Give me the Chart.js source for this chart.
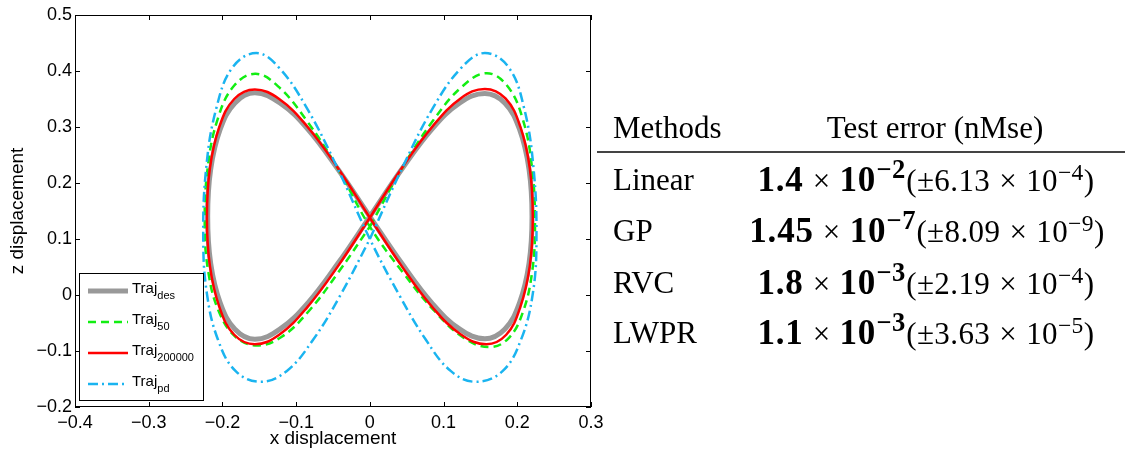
<!DOCTYPE html>
<html>
<head>
<meta charset="utf-8">
<title>Trajectory figure</title>
<script src="https://cdn.jsdelivr.net/npm/chart.js@4.4.0/dist/chart.umd.min.js"></script>
<style>
body { margin: 0; background: #fff; width: 1125px; height: 457px; overflow: hidden; position: relative; }
#plot { position: absolute; left: 0; top: 0; }
.tt { position: absolute; font-family: "Liberation Serif", "Times New Roman", serif; font-size: 31px; line-height: 31px; color: #000; white-space: nowrap; }
.val { width: 420px; text-align: center; letter-spacing: 0.4px; }
.tt b { font-size: 1.13em; letter-spacing: 0.8px; }
.tt sup { font-size: 0.76em; vertical-align: 0; position: relative; top: -0.48em; line-height: 0; }
.op { margin: 0 9px; }
#rule { position: absolute; left: 597px; top: 151px; width: 528px; height: 1.5px; background: #444; }
</style>
</head>
<body>
<canvas id="plot" width="620" height="457"></canvas>

<div class="tt" style="left:613px; top:112px;">Methods</div>
<div class="tt" style="left:725px; top:112px; width:420px; text-align:center;">Test error (nMse)</div>
<div id="rule"></div>

<div class="tt" style="left:613px; top:164px;">Linear</div>
<div class="tt val" style="left:716px; top:164px;"><b>1.4</b><span class="op">×</span><b>10<sup>−2</sup></b>(±6.13<span class="op">×</span>10<sup>−4</sup>)</div>

<div class="tt" style="left:613px; top:215px;">GP</div>
<div class="tt val" style="left:717px; top:215px;"><b>1.45</b><span class="op">×</span><b>10<sup>−7</sup></b>(±8.09<span class="op">×</span>10<sup>−9</sup>)</div>

<div class="tt" style="left:613px; top:267px;">RVC</div>
<div class="tt val" style="left:716px; top:267px;"><b>1.8</b><span class="op">×</span><b>10<sup>−3</sup></b>(±2.19<span class="op">×</span>10<sup>−4</sup>)</div>

<div class="tt" style="left:613px; top:317px;">LWPR</div>
<div class="tt val" style="left:716px; top:317px;"><b>1.1</b><span class="op">×</span><b>10<sup>−3</sup></b>(±3.63<span class="op">×</span>10<sup>−5</sup>)</div>

<script>
// axis ticks
var xTicks = [-0.4, -0.3, -0.2, -0.1, 0, 0.1, 0.2, 0.3];
var zTicks = [-0.2, -0.1, 0, 0.1, 0.2, 0.3, 0.4, 0.5];

// legend subscripts
var trajNames = ["des", "50", "200000", "pd"];

// desired trajectory
var desX = [0, 0.043, 0.084, 0.122, 0.156, 0.183, 0.203, 0.216, 0.220, 0.216, 0.203, 0.183, 0.156, 0.122, 0.084, 0.043, 0,
	-0.043, -0.084, -0.122, -0.156, -0.183, -0.203, -0.216, -0.220, -0.216, -0.203, -0.183, -0.156, -0.122, -0.084, -0.043, 0];
var desZ = [0.140, 0.224, 0.296, 0.343, 0.360, 0.343, 0.296, 0.224, 0.140, 0.057, -0.014, -0.061, -0.078, -0.061, -0.014, 0.057, 0.140,
	0.224, 0.296, 0.343, 0.361, 0.343, 0.296, 0.224, 0.140, 0.057, -0.014, -0.061, -0.079, -0.061, -0.014, 0.057, 0.140];

// 50 samples
var t50X = [0, 0.044, 0.086, 0.125, 0.158, 0.186, 0.207, 0.220, 0.224, 0.220, 0.208, 0.189, 0.163, 0.128, 0.088, 0.045, 0,
	-0.044, -0.086, -0.124, -0.155, -0.184, -0.206, -0.220, -0.224, -0.219, -0.205, -0.182, -0.153, -0.120, -0.083, -0.043, 0];
var t50Z = [0.122, 0.227, 0.312, 0.372, 0.396, 0.374, 0.316, 0.227, 0.122, 0.040, -0.029, -0.076, -0.093, -0.077, -0.029, 0.040, 0.122,
	0.227, 0.312, 0.372, 0.395, 0.374, 0.316, 0.227, 0.122, 0.040, -0.029, -0.075, -0.090, -0.075, -0.029, 0.040, 0.122];

// 200000 samples
var t200kX = [0, 0.043, 0.085, 0.123, 0.156, 0.184, 0.204, 0.217, 0.221, 0.217, 0.204, 0.185, 0.158, 0.124, 0.085, 0.043, 0,
	-0.043, -0.085, -0.123, -0.156, -0.184, -0.204, -0.217, -0.221, -0.217, -0.204, -0.184, -0.156, -0.123, -0.085, -0.043, 0];
var t200kZ = [0.138, 0.226, 0.301, 0.351, 0.368, 0.351, 0.301, 0.226, 0.138, 0.052, -0.022, -0.071, -0.088, -0.071, -0.022, 0.052, 0.138,
	0.226, 0.301, 0.350, 0.367, 0.350, 0.301, 0.226, 0.138, 0.052, -0.022, -0.071, -0.088, -0.071, -0.022, 0.052, 0.138];

// pd controller
var pdX = [0, 0.044, 0.086, 0.125, 0.156, 0.188, 0.209, 0.222, 0.226, 0.221, 0.205, 0.180, 0.144, 0.110, 0.076, 0.039, 0,
	-0.044, -0.086, -0.124, -0.154, -0.186, -0.208, -0.222, -0.226, -0.221, -0.206, -0.182, -0.148, -0.113, -0.077, -0.039, 0];
var pdZ = [0.100, 0.227, 0.335, 0.407, 0.432, 0.407, 0.335, 0.227, 0.100, 0.002, -0.080, -0.136, -0.155, -0.136, -0.080, 0.002, 0.100,
	0.227, 0.335, 0.407, 0.432, 0.407, 0.335, 0.227, 0.100, 0.002, -0.080, -0.136, -0.155, -0.136, -0.080, 0.002, 0.100];

var toPoints = function(xs, zs){
	var pts = [];
	for(var i=0; i<xs.length; i++){
		pts.push({x: xs[i], y: zs[i]});
	}
	return pts;
}

var fmtTick = function(v){
	if(Math.abs(v) < 1e-9) return "0";
	return v.toFixed(1).replace("-", "\u2212");
}

// box round the axes with inward ticks, like matlab
var framePlugin = {
	id: "frame",
	afterDatasetsDraw: function(chart){
		var a = chart.chartArea, ctx = chart.ctx;
		var sx = chart.scales.x, sy = chart.scales.y;
		ctx.save();
		ctx.strokeStyle = "#000";
		ctx.lineWidth = 1;
		ctx.strokeRect(a.left + 0.5, a.top + 0.5, a.right - a.left - 1, a.bottom - a.top - 1);
		ctx.beginPath();
		xTicks.forEach(function(v){
			var p = Math.round(sx.getPixelForValue(v)) + 0.5;
			ctx.moveTo(p, a.bottom); ctx.lineTo(p, a.bottom - 5);
			ctx.moveTo(p, a.top); ctx.lineTo(p, a.top + 5);
		});
		zTicks.forEach(function(v){
			var p = Math.round(sy.getPixelForValue(v)) + 0.5;
			ctx.moveTo(a.left, p); ctx.lineTo(a.left + 5, p);
			ctx.moveTo(a.right, p); ctx.lineTo(a.right - 5, p);
		});
		ctx.stroke();
		ctx.restore();
	}
};

// legend in the lower left corner, with subscripts
var legendPlugin = {
	id: "boxLegend",
	afterDraw: function(chart){
		var a = chart.chartArea, ctx = chart.ctx;
		var bx = a.left + 4, by = a.bottom - 134, bw = 124, bh = 127;
		ctx.save();
		ctx.fillStyle = "#fff";
		ctx.fillRect(bx, by, bw, bh);
		ctx.strokeStyle = "#000";
		ctx.lineWidth = 1;
		ctx.strokeRect(bx + 0.5, by + 0.5, bw, bh);
		for(var i=0; i<trajNames.length; i++){
			var ds = chart.data.datasets[i];
			var y = by + 18 + i * 31;
			ctx.beginPath();
			ctx.setLineDash(ds.borderDash || []);
			ctx.strokeStyle = ds.borderColor;
			ctx.lineWidth = ds.borderWidth;
			ctx.moveTo(bx + 9, y);
			ctx.lineTo(bx + 49, y);
			ctx.stroke();
			ctx.setLineDash([]);
			ctx.fillStyle = "#000";
			ctx.textBaseline = "alphabetic";
			ctx.font = '15px "Liberation Sans", Arial, sans-serif';
			ctx.fillText("Traj", bx + 53, y + 2);
			var w = ctx.measureText("Traj").width;
			ctx.font = '11px "Liberation Sans", Arial, sans-serif';
			ctx.fillText(trajNames[i], bx + 53 + w, y + 8);
		}
		ctx.restore();
	}
};

var tickFont = {family: '"Liberation Sans", Arial, sans-serif', size: 18};
var titleFont = {family: '"Liberation Sans", Arial, sans-serif', size: 19};

var drawTrajChart = function(){
	var ctx = document.getElementById("plot").getContext("2d");
	new Chart(ctx, {
		type: "scatter",
		data: {
			datasets: [
				{label: "Traj des", data: toPoints(desX, desZ), borderColor: "#999999", borderWidth: 5, order: 4},
				{label: "Traj 50", data: toPoints(t50X, t50Z), borderColor: "#12ee12", borderWidth: 2.5, borderDash: [8, 5], order: 3},
				{label: "Traj 200000", data: toPoints(t200kX, t200kZ), borderColor: "#ff0000", borderWidth: 2.5, order: 2},
				{label: "Traj pd", data: toPoints(pdX, pdZ), borderColor: "#1ab4f0", borderWidth: 2.5, borderDash: [10, 4, 2, 4], order: 1}
			]
		},
		options: {
			responsive: false,
			animation: false,
			showLine: true,
			elements: {point: {radius: 0}, line: {tension: 0.4, fill: false}},
			layout: {padding: {top: 15, right: 29, left: 0, bottom: 0}},
			plugins: {legend: {display: false}, tooltip: {enabled: false}},
			scales: {
				x: {
					type: "linear", min: -0.4, max: 0.3,
					afterBuildTicks: function(s){ s.ticks = xTicks.map(function(v){ return {value: v}; }); },
					afterFit: function(s){ s.height = 50; s.paddingLeft = 0; s.paddingRight = 0; },
					grid: {display: false, drawTicks: false},
					border: {display: false},
					ticks: {padding: 5, color: "#000", font: tickFont, callback: fmtTick, maxRotation: 0},
					title: {display: true, text: "x displacement", color: "#000", font: titleFont, padding: {top: 0, bottom: 7}}
				},
				y: {
					type: "linear", min: -0.2, max: 0.5,
					afterBuildTicks: function(s){ s.ticks = zTicks.map(function(v){ return {value: v}; }); },
					afterFit: function(s){ s.width = 75; s.paddingTop = 0; s.paddingBottom = 0; },
					grid: {display: false, drawTicks: false},
					border: {display: false},
					ticks: {padding: 3, color: "#000", font: tickFont, callback: fmtTick},
					title: {display: true, text: "z displacement", color: "#000", font: titleFont, padding: {top: 6, bottom: 0}}
				}
			}
		},
		plugins: [framePlugin, legendPlugin]
	});
}

drawTrajChart();
</script>
</body>
</html>
